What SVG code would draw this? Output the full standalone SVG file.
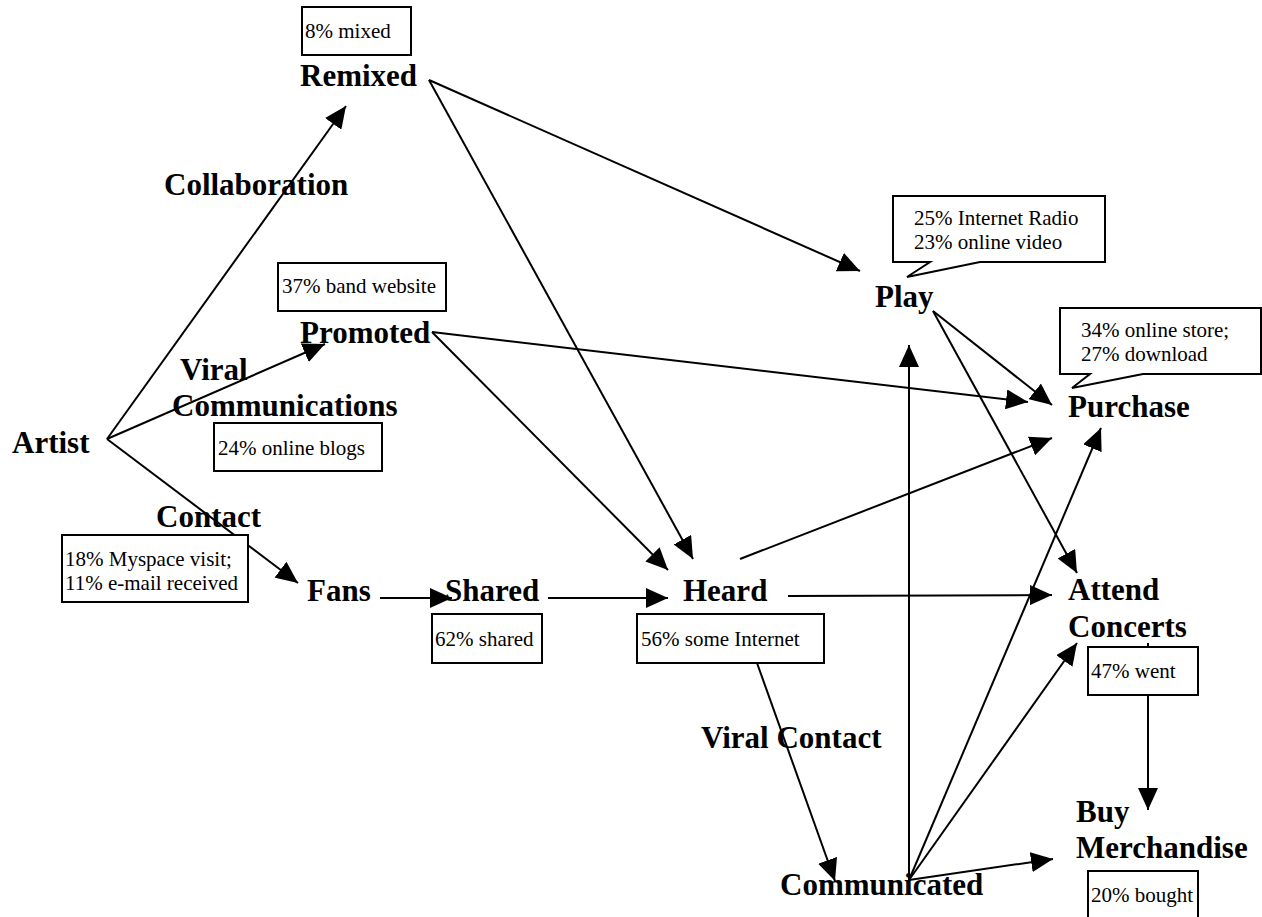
<svg xmlns="http://www.w3.org/2000/svg" width="1262" height="917" viewBox="0 0 1262 917">
<style>
.lbl{font-family:"Liberation Serif",serif;font-weight:bold;font-size:31px;fill:#000}
.sm{font-family:"Liberation Serif",serif;font-size:21px;fill:#000}
.box{fill:#fff;stroke:#000;stroke-width:2}
.cn line{stroke:#000;stroke-width:2;marker-end:url(#ah)}
</style>
<defs>
<marker id="ah" markerUnits="userSpaceOnUse" markerWidth="24" markerHeight="20" refX="22" refY="10" orient="auto">
<path d="M0,0 L22,10 L0,20 z" fill="#000"/>
</marker>
</defs>
<rect width="1262" height="917" fill="#fff"/>
<g id="connectors" class="cn">
<line x1="107" y1="439" x2="346" y2="106"/>
<line x1="107" y1="439" x2="325" y2="344"/>
<line x1="107" y1="439" x2="298" y2="583"/>
<line x1="380" y1="598" x2="452" y2="598"/>
<line x1="548" y1="598" x2="668" y2="598"/>
<line x1="788" y1="596" x2="1052" y2="595"/>
<line x1="429" y1="80" x2="860" y2="271"/>
<line x1="429" y1="80" x2="693" y2="559"/>
<line x1="432" y1="332" x2="668" y2="570"/>
<line x1="432" y1="332" x2="1028" y2="402"/>
<line x1="740" y1="559" x2="1052" y2="438"/>
<line x1="933" y1="311" x2="1052" y2="405"/>
<line x1="933" y1="311" x2="1077" y2="573"/>
<line x1="757" y1="663" x2="835" y2="881"/>
<line x1="909" y1="880" x2="909" y2="345"/>
<line x1="909" y1="880" x2="1101" y2="428"/>
<line x1="909" y1="880" x2="1077" y2="643"/>
<line x1="909" y1="880" x2="1053" y2="859"/>
<line x1="1148" y1="695" x2="1148" y2="810"/>
<line x1="1148" y1="643" x2="1148" y2="647" style="marker-end:none"/>
</g>
<g id="artist"><text class="lbl" x="12" y="453">Artist</text></g>
<g id="remixed">
<rect class="box" x="302" y="7" width="109" height="48"/>
<text class="sm" x="305" y="38">8% mixed</text>
<text class="lbl" x="300" y="86">Remixed</text>
</g>
<g id="collaboration"><text class="lbl" x="164" y="195">Collaboration</text></g>
<g id="promoted">
<rect class="box" x="278" y="263" width="168" height="48"/>
<text class="sm" x="282" y="293">37% band website</text>
<text class="lbl" x="300" y="343">Promoted</text>
</g>
<g id="viral-communications">
<text class="lbl" x="180" y="380">Viral</text>
<text class="lbl" x="172" y="416">Communications</text>
<rect class="box" x="214" y="423" width="168" height="48"/>
<text class="sm" x="218" y="455">24% online blogs</text>
</g>
<g id="contact">
<text class="lbl" x="156" y="527">Contact</text>
<rect class="box" x="62" y="535" width="186" height="67"/>
<text class="sm" x="65" y="566">18% Myspace visit;</text>
<text class="sm" x="65" y="590">11% e-mail received</text>
</g>
<g id="fans"><text class="lbl" x="307" y="601">Fans</text></g>
<g id="shared">
<text class="lbl" x="445" y="601">Shared</text>
<rect class="box" x="432" y="614" width="110" height="49"/>
<text class="sm" x="435" y="646">62% shared</text>
</g>
<g id="heard">
<text class="lbl" x="683" y="601">Heard</text>
<rect class="box" x="637" y="614" width="187" height="49"/>
<text class="sm" x="641" y="646">56% some Internet</text>
</g>
<g id="viral-contact"><text class="lbl" x="701" y="748">Viral Contact</text></g>
<g id="communicated"><text class="lbl" x="780" y="895">Communicated</text></g>
<g id="play">
<path class="box" d="M893,196 H1105 V262 H980 L907,277 L930,262 H893 Z"/>
<text class="sm" x="914" y="225">25% Internet Radio</text>
<text class="sm" x="914" y="249">23% online video</text>
<text class="lbl" x="875" y="307">Play</text>
</g>
<g id="purchase">
<path class="box" d="M1060,308 H1261 V374 H1143 L1072,388 L1090,374 H1060 Z"/>
<text class="sm" x="1081" y="337">34% online store;</text>
<text class="sm" x="1081" y="361">27% download</text>
<text class="lbl" x="1068" y="417">Purchase</text>
</g>
<g id="attend-concerts">
<text class="lbl" x="1068" y="600">Attend</text>
<text class="lbl" x="1068" y="637">Concerts</text>
<rect class="box" x="1088" y="647" width="110" height="48"/>
<text class="sm" x="1091" y="678">47% went</text>
</g>
<g id="buy-merchandise">
<text class="lbl" x="1076" y="822">Buy</text>
<text class="lbl" x="1076" y="858">Merchandise</text>
<rect class="box" x="1088" y="871" width="110" height="60"/>
<text class="sm" x="1091" y="902">20% bought</text>
</g>
</svg>
